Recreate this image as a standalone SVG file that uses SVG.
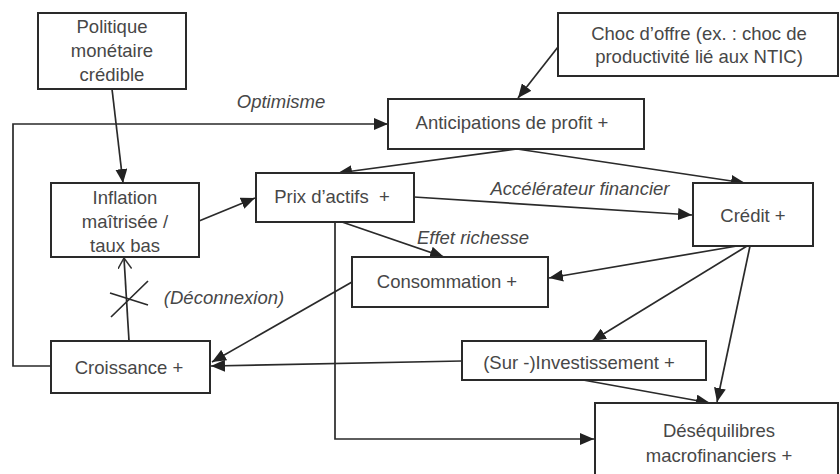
<svg xmlns="http://www.w3.org/2000/svg" width="840" height="474" viewBox="0 0 840 474">
<defs>
<marker id="ah" viewBox="0 0 14 12" refX="14" refY="6" markerWidth="14" markerHeight="12" markerUnits="userSpaceOnUse" orient="auto">
<path d="M0,0 L14,6 L0,12 z" fill="#222"/>
</marker>
<marker id="open" viewBox="0 0 12 14" refX="11" refY="7" markerWidth="12" markerHeight="14" markerUnits="userSpaceOnUse" orient="auto">
<path d="M0,0 L11,7 L0,14" fill="none" stroke="#333" stroke-width="1.5"/>
</marker>
<style>
.box{fill:#fff;stroke:#2a2a2a;stroke-width:2}
.t{font-family:"Liberation Sans",Arial,sans-serif;font-size:18.5px;fill:#474747;text-anchor:middle}
.lbl{font-family:"Liberation Sans",Arial,sans-serif;font-size:18.5px;fill:#474747;font-style:italic;text-anchor:middle}
.c{fill:none;stroke:#2a2a2a;stroke-width:1.7}
.ar{marker-end:url(#ah)}
</style>
</defs>
<rect width="840" height="474" fill="#fff"/>
<g id="connectors">
<path class="c ar" d="M52,366 L13,366 L13,124 L388,124"/>
<path class="c ar" d="M112,89 L123,183"/>
<path class="c ar" d="M558,47 L518,98"/>
<path class="c ar" d="M517,149 L338,173"/>
<path class="c ar" d="M517,149 L745,183"/>
<path class="c ar" d="M199,221 L255,198"/>
<path class="c ar" d="M414,197 L692,215"/>
<path class="c ar" d="M342,222 L444,257"/>
<path class="c ar" d="M335,222 L335,439 L594,439"/>
<path class="c ar" d="M737,246 L549,278"/>
<path class="c ar" d="M747,246 L592,341"/>
<path class="c ar" d="M750,246 L717,402"/>
<path class="c ar" d="M583,380 L710,403"/>
<path class="c ar" d="M462,361 L211,366"/>
<path class="c ar" d="M352,282 L212,362"/>
<path class="c" d="M129,341 L124,258" marker-end="url(#open)"/>
<path class="c" d="M111,317 L148,281 M110,293 L148,305"/>
</g>
<g id="lbl-optimisme"><text class="lbl" x="281" y="108">Optimisme</text></g>
<g id="lbl-accel"><text class="lbl" x="580" y="195">Accélérateur financier</text></g>
<g id="lbl-effet"><text class="lbl" x="473" y="244">Effet richesse</text></g>
<g id="lbl-deconnexion"><text class="lbl" x="224" y="304">(Déconnexion)</text></g>
<g id="n-politique">
<rect class="box" x="38" y="13" width="148" height="76"/>
<text class="t" x="112" y="33">Politique</text>
<text class="t" x="112" y="57">monétaire</text>
<text class="t" x="112" y="81">crédible</text>
</g>
<g id="n-choc">
<rect class="box" x="558" y="13" width="280" height="63"/>
<text class="t" x="699" y="40">Choc d’offre (ex. : choc de</text>
<text class="t" x="699" y="63">productivité lié aux NTIC)</text>
</g>
<g id="n-anticipations">
<rect class="box" x="388" y="99" width="256" height="50"/>
<text class="t" x="512" y="129">Anticipations de profit +</text>
</g>
<g id="n-inflation">
<rect class="box" x="51" y="183" width="148" height="74"/>
<text class="t" x="125" y="204">Inflation</text>
<text class="t" x="125" y="228">maîtrisée /</text>
<text class="t" x="125" y="252">taux bas</text>
</g>
<g id="n-prix">
<rect class="box" x="256" y="173" width="158" height="49"/>
<text class="t" x="332" y="203" xml:space="preserve">Prix d’actifs  +</text>
</g>
<g id="n-credit">
<rect class="box" x="693" y="183" width="120" height="63"/>
<text class="t" x="753" y="222">Crédit +</text>
</g>
<g id="n-consommation">
<rect class="box" x="352" y="257" width="196" height="50"/>
<text class="t" x="447" y="288">Consommation +</text>
</g>
<g id="n-investissement">
<rect class="box" x="462" y="341" width="244" height="39"/>
<text class="t" x="579" y="369">(Sur -)Investissement +</text>
</g>
<g id="n-croissance">
<rect class="box" x="51" y="341" width="159" height="52"/>
<text class="t" x="129" y="374">Croissance +</text>
</g>
<g id="n-desequilibres">
<rect class="box" x="595" y="403" width="243" height="80"/>
<text class="t" x="719" y="437">Déséquilibres</text>
<text class="t" x="719" y="462">macrofinanciers +</text>
</g>
</svg>
